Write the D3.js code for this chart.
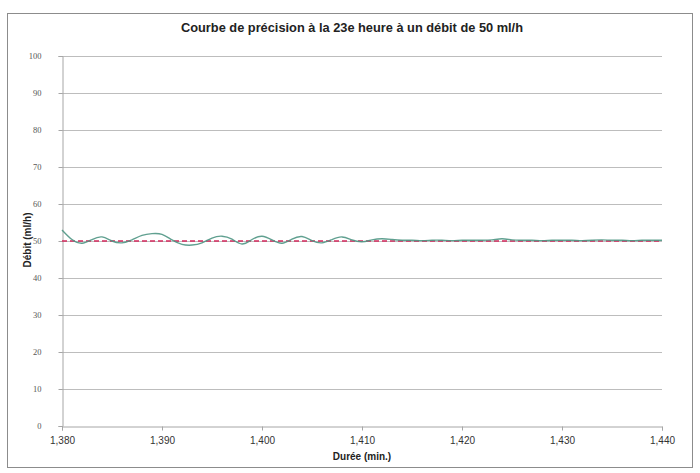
<!DOCTYPE html>
<html><head><meta charset="utf-8">
<script src="https://cdn.jsdelivr.net/npm/d3@7"></script>
<style>body{margin:0;background:#fff}</style>
</head><body>
<svg id="chart" width="700" height="473"></svg>
<script>
const title = "Courbe de précision à la 23e heure à un débit de 50 ml/h";
const xLabel = "Durée (min.)";
const yLabel = "Débit (ml/h)";
const xTicks = [1380, 1390, 1400, 1410, 1420, 1430, 1440];
const xTickLabels = ["1,380", "1,390", "1,400", "1,410", "1,420", "1,430", "1,440"];
const yTicks = [0, 10, 20, 30, 40, 50, 60, 70, 80, 90, 100];
const minutes = [1380,1381,1382,1383,1384,1385,1386,1387,1388,1389,1390,1391,1392,1393,1394,1395,1396,1397,1398,1399,1400,1401,1402,1403,1404,1405,1406,1407,1408,1409,1410,1411,1412,1413,1414,1415,1416,1417,1418,1419,1420,1421,1422,1423,1424,1425,1426,1427,1428,1429,1430,1431,1432,1433,1434,1435,1436,1437,1438,1439,1440];
const debit = [53.0,50.4,49.4,50.4,51.1,50.0,49.5,50.3,51.5,52.0,51.8,50.3,49.1,48.9,49.5,50.8,51.3,50.5,49.2,50.4,51.3,50.3,49.4,50.5,51.2,50.1,49.5,50.4,51.1,50.3,49.8,50.3,50.6,50.4,50.2,50.2,50.1,50.2,50.2,50.1,50.2,50.2,50.2,50.3,50.6,50.3,50.2,50.2,50.1,50.2,50.2,50.2,50.1,50.2,50.3,50.2,50.2,50.1,50.2,50.2,50.2];
const targetRate = [50, 50];

const svg = d3.select("#chart");
const W = 700, H = 473;
const m = {left: 62, right: 38, top: 56, bottom: 47};
const x = d3.scaleLinear().domain([1380, 1440]).range([m.left, W - m.right]);
const y = d3.scaleLinear().domain([0, 100]).range([H - m.bottom, m.top]);

// outer border
svg.append("rect").attr("x", 7.5).attr("y", 13.5).attr("width", 685).attr("height", 454)
  .attr("fill", "#fff").attr("stroke", "#8c8c8c").attr("stroke-width", 1);

// grid
svg.append("g").selectAll("line").data(yTicks.filter(d => d > 0)).join("line")
  .attr("x1", m.left).attr("x2", W - m.right)
  .attr("y1", d => Math.round(y(d)) + 0.5).attr("y2", d => Math.round(y(d)) + 0.5)
  .attr("stroke", "#bdbdbd").attr("stroke-width", 1);

// y axis
const yAxis = svg.append("g").attr("transform", `translate(${m.left + 0.5},0)`)
  .call(d3.axisLeft(y).tickValues(yTicks).tickSize(4).tickPadding(17));
yAxis.select(".domain").attr("stroke", "#a6a6a6");
yAxis.selectAll(".tick line").attr("stroke", "#a6a6a6");
yAxis.selectAll(".tick text").attr("font-family", "Liberation Serif, serif").attr("font-size", 8.5)
  .attr("fill", "#555").attr("text-anchor", "end");

// x axis
const xAxis = svg.append("g").attr("transform", `translate(0,${Math.round(y(0)) + 0.5})`)
  .call(d3.axisBottom(x).tickValues(xTicks).tickFormat((d, i) => xTickLabels[i]).tickSize(4).tickPadding(6));
xAxis.select(".domain").attr("stroke", "#a6a6a6");
xAxis.selectAll(".tick line").attr("stroke", "#a6a6a6");
xAxis.selectAll(".tick text").attr("font-family", "Liberation Sans Narrow, Liberation Sans, sans-serif").attr("font-size", 10).attr("fill", "#333");

// reference line at 50
svg.append("line")
  .attr("x1", x(1380)).attr("x2", x(1440))
  .attr("y1", y(targetRate[0])).attr("y2", y(targetRate[1]))
  .attr("stroke", "#d4285c").attr("stroke-width", 1.3).attr("stroke-dasharray", "5,3");

// data line
const line = d3.line().x((d, i) => x(minutes[i])).y(d => y(d)).curve(d3.curveNatural);
svg.append("path").datum(debit).attr("d", line)
  .attr("fill", "none").attr("stroke", "#4f9684").attr("stroke-width", 1.4).attr("opacity", 0.9);

// title
svg.append("text").attr("x", 352).attr("y", 32).attr("text-anchor", "middle")
  .attr("font-family", "Liberation Sans Narrow, Liberation Sans, sans-serif").attr("font-weight", "bold")
  .attr("font-size", 13).attr("fill", "#222").attr("textLength", 342).attr("lengthAdjust", "spacingAndGlyphs")
  .text(title);

// axis titles
svg.append("text").attr("x", 362).attr("y", 460).attr("text-anchor", "middle")
  .attr("font-family", "Liberation Sans Narrow, Liberation Sans, sans-serif").attr("font-weight", "bold")
  .attr("font-size", 10).attr("fill", "#222").text(xLabel);
svg.append("text").attr("transform", "translate(31,240) rotate(-90)").attr("text-anchor", "middle")
  .attr("font-family", "Liberation Sans Narrow, Liberation Sans, sans-serif").attr("font-weight", "bold")
  .attr("font-size", 10).attr("fill", "#222").text(yLabel);
</script>
</body></html>
